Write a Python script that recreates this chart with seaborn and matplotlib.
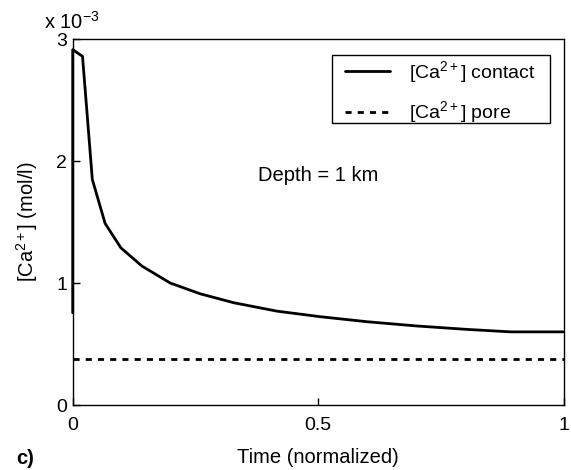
import matplotlib
matplotlib.use("Agg")
import matplotlib.pyplot as plt
from matplotlib.patches import Rectangle
import seaborn as sns
import pandas as pd

# Data (concentration in units of 1e-3 mol/l)
time_contact = [0.0, 0.0, 0.020, 0.040, 0.066, 0.098, 0.141, 0.199, 0.26, 0.328,
                0.416, 0.505, 0.60, 0.702, 0.804, 0.892, 1.0]
ca_contact = [0.757, 2.915, 2.86, 1.85, 1.49, 1.29, 1.14, 1.00, 0.912, 0.839,
              0.77, 0.724, 0.683, 0.648, 0.62, 0.60, 0.60]
time_pore = [0.0, 1.0]
ca_pore = [0.377, 0.377]
x_ticks = [0, 0.5, 1]
x_tick_labels = ["0", "0.5", "1"]
y_ticks = [0, 1, 2, 3]

sns.set_theme(style="white")
plt.rcParams['font.family'] = ['Liberation Sans', 'DejaVu Sans']
plt.rcParams['mathtext.fontset'] = 'custom'
plt.rcParams['mathtext.rm'] = 'Liberation Sans'
plt.rcParams['mathtext.it'] = 'Liberation Sans:italic'
plt.rcParams['mathtext.bf'] = 'Liberation Sans:bold'
plt.rcParams['axes.unicode_minus'] = False
plt.rcParams['text.color'] = 'black'
plt.rcParams['axes.labelcolor'] = 'black'
plt.rcParams['xtick.color'] = 'black'
plt.rcParams['ytick.color'] = 'black'

FS = 14.5
AX_L, AX_R, AX_T, AX_B = 72.7, 563.5, 39.3, 405.0
AW, AH = AX_R - AX_L, AX_B - AX_T

fig = plt.figure(figsize=(5.71, 4.70), dpi=100)
ax = fig.add_axes([AX_L / 571, (470 - AX_B) / 470, AW / 571, AH / 470])

df_c = pd.DataFrame({"t": time_contact, "c": ca_contact})
df_p = pd.DataFrame({"t": time_pore, "c": ca_pore})
sns.lineplot(data=df_c, x="t", y="c", sort=False, estimator=None, color="black", lw=2,
             ax=ax, label=r"[Ca$^{\mathrm{2+}}$] contact", clip_on=False, zorder=3)
sns.lineplot(data=df_p, x="t", y="c", sort=False, estimator=None, color="black", lw=2,
             linestyle=(0, (2.2, 2.2)), ax=ax, label=r"[Ca$^{\mathrm{2+}}$] pore")

ax.set_xlim(0, 1)
ax.set_ylim(0, 3)
ax.set_xticks(x_ticks)
ax.set_xticklabels(x_tick_labels)
ax.set_yticks(y_ticks)
ax.set_yticklabels([str(v) for v in y_ticks])
ax.tick_params(direction="in", length=5, width=1, colors="black",
               labelsize=14, bottom=True, left=True, top=False, right=False)
ax.tick_params(axis="x", pad=9)
ax.tick_params(axis="y", pad=4)
for s in ax.spines.values():
    s.set_color("black")
    s.set_linewidth(1.0)
ax.grid(False)

ax.set_xlabel("Time (normalized)", fontsize=FS, color="black", labelpad=10)
ax.set_ylabel(r"[Ca$^{\mathrm{2+}}$] (mol/l)", fontsize=FS, color="black", labelpad=12)

fig.text(72 / 571, 1 - 22 / 470, r"x 10$^{\mathrm{-3}}$", fontsize=FS, ha="center", va="center", color="black")
fig.text(25 / 571, 1 - 458 / 470, "c)", fontsize=FS, fontweight="bold", ha="center", va="center", color="black")
ax.text(0.5, 1.88, "Depth = 1 km", fontsize=FS, ha="center", va="center", color="black")

# legend (frame drawn separately to mimic MATLAB's box padding)
leg = ax.legend(loc="upper left",
                bbox_to_anchor=((345 - AX_L) / AW, (AX_B - 59) / AH),
                fontsize=14, frameon=False, handlelength=2.3, borderpad=0,
                labelspacing=0.75, handletextpad=1.0, borderaxespad=0)
for t in leg.get_texts():
    t.set_color("black")
frame = Rectangle(((332 - AX_L) / AW, (AX_B - 123) / AH),
                  (550 - 332) / AW, (123 - 55) / AH, transform=ax.transAxes,
                  fill=True, facecolor="white", edgecolor="black", lw=1.0, zorder=4)
ax.add_patch(frame)
leg.set_zorder(5)

fig.savefig("out.png", dpi=100)
